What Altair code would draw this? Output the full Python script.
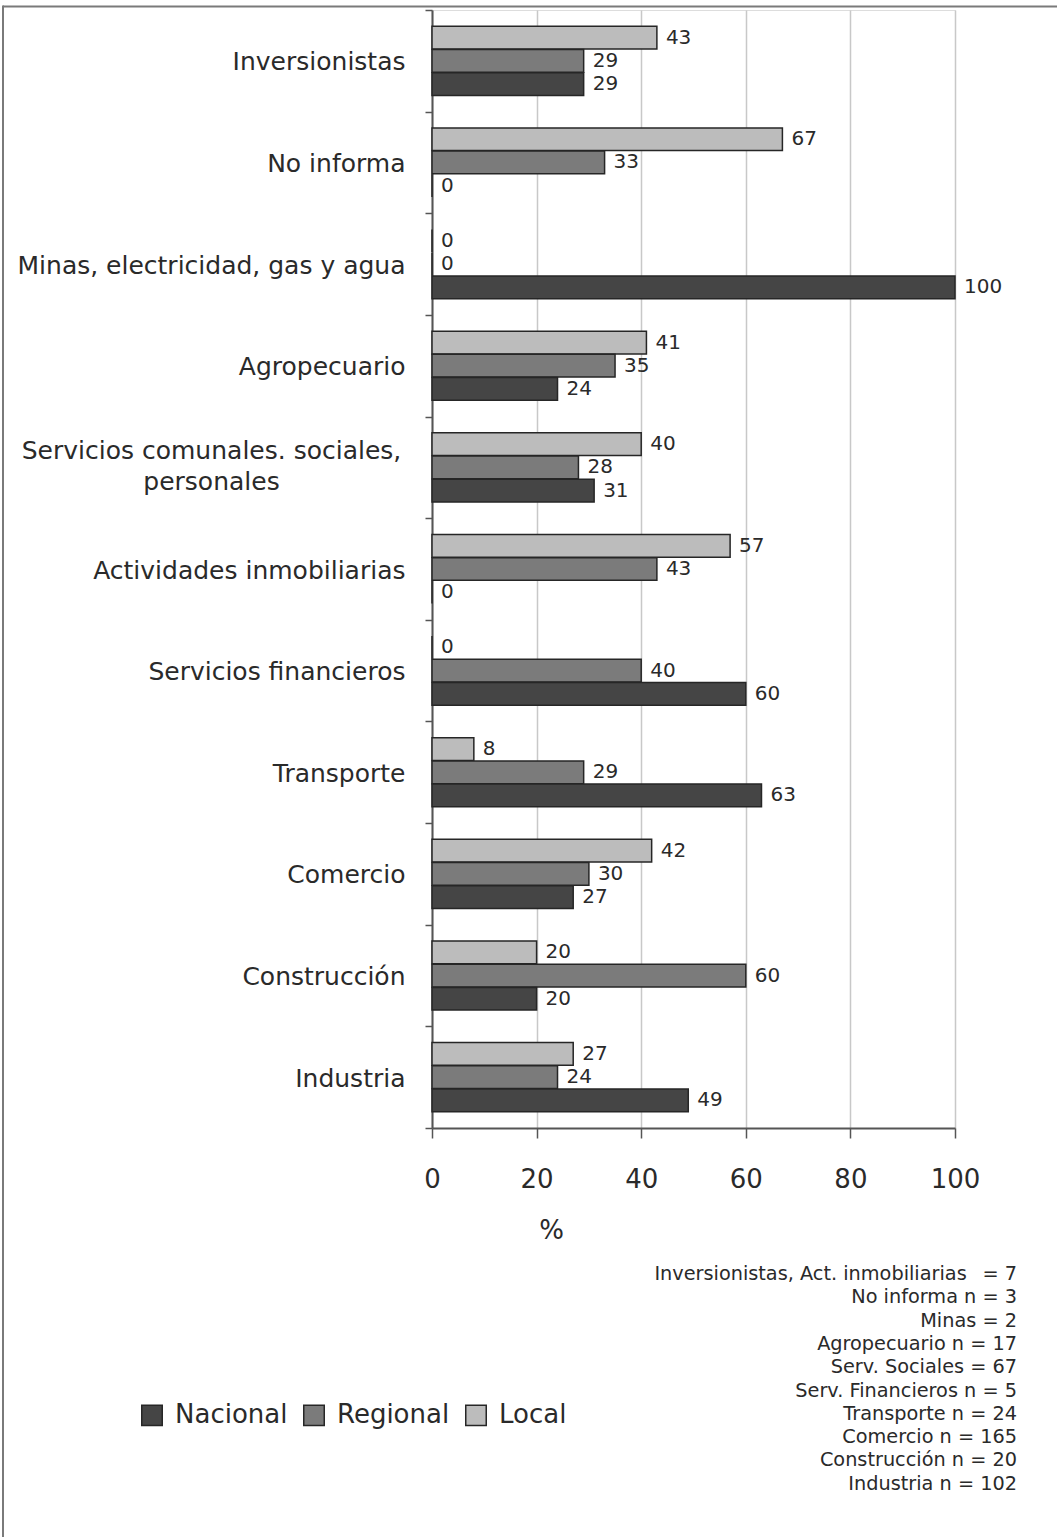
import altair as alt
import pandas as pd

# Sectors, top to bottom
categories = [
    "Inversionistas",
    "No informa",
    "Minas, electricidad, gas y agua",
    "Agropecuario",
    "Servicios comunales. sociales, personales",
    "Actividades inmobiliarias",
    "Servicios financieros",
    "Transporte",
    "Comercio",
    "Construcción",
    "Industria",
]

# Percentages per scope
local_pct = [43, 67, 0, 41, 40, 57, 0, 8, 42, 20, 27]
regional_pct = [29, 33, 0, 35, 28, 43, 40, 29, 30, 60, 24]
nacional_pct = [29, 0, 100, 24, 31, 0, 60, 63, 27, 20, 49]

series = ["Nacional", "Regional", "Local"]
series_colors = ["#454545", "#7b7b7b", "#bcbcbc"]
stack_order = ["Local", "Regional", "Nacional"]

x_ticks = [0, 20, 40, 60, 80, 100]

notes = [
    "Inversionistas, Act. inmobiliarias \u2002= 7",
    "No informa n = 3",
    "Minas = 2",
    "Agropecuario n = 17",
    "Serv. Sociales = 67",
    "Serv. Financieros n = 5",
    "Transporte n = 24",
    "Comercio n = 165",
    "Construcción n = 20",
    "Industria n = 102",
]

rows = []
for cat, lo, re, na in zip(categories, local_pct, regional_pct, nacional_pct):
    rows.append({"sector": cat, "ambito": "Local", "pct": lo})
    rows.append({"sector": cat, "ambito": "Regional", "pct": re})
    rows.append({"sector": cat, "ambito": "Nacional", "pct": na})
df = pd.DataFrame(rows)

FONT = "DejaVu Sans"
INK = "#2a2a2a"
AXIS = "#555555"

# The long sector name is broken in two centred lines
two_line = "Servicios comunales. sociales, personales"
is_two_line = f"datum.value == '{two_line}'"
label_expr = (
    f"datum.label == '{two_line}' ? "
    "['Servicios comunales. sociales,', 'personales'] : datum.label"
)

x_enc = alt.X(
    "pct:Q",
    scale=alt.Scale(domain=[0, 100], nice=False),
    axis=alt.Axis(
        values=x_ticks,
        format="d",
        title="%",
        titleFont=FONT,
        titleFontSize=26,
        titleFontWeight="normal",
        titleColor=INK,
        titleX=119,
        titleY=102,
        titleBaseline="middle",
        titleAlign="center",
        labelFont=FONT,
        labelFontSize=26,
        labelColor=INK,
        labelPadding=28,
        labelFlush=False,
        tickSize=10,
        tickWidth=1.5,
        tickColor=AXIS,
        domainColor=AXIS,
        domainWidth=2,
        grid=True,
        gridColor="#c8c8c8",
        gridWidth=1.5,
    ),
)

y_enc = alt.Y(
    "sector:N",
    sort=categories,
    scale=alt.Scale(paddingInner=0, paddingOuter=0),
    axis=alt.Axis(
        title=None,
        labelExpr=label_expr,
        labelFont=FONT,
        labelFontSize=25,
        labelColor=INK,
        labelLineHeight=31,
        labelAlign={"condition": {"test": is_two_line, "value": "center"}, "value": "right"},
        labelPadding={"condition": {"test": is_two_line, "value": 214}, "value": 20},
        labelOffset={"condition": {"test": is_two_line, "value": -17}, "value": 1},
        labelLimit=500,
        tickBand="extent",
        tickSize=7,
        tickWidth=1.5,
        tickColor=AXIS,
        domainColor=AXIS,
        domainWidth=2,
        grid=False,
    ),
)

y_off = alt.YOffset(
    "ambito:N",
    sort=stack_order,
    scale=alt.Scale(paddingInner=0.02, paddingOuter=0.7),
)

bars = alt.Chart(df).mark_bar(stroke="#262626", strokeWidth=1.5).encode(
    x=x_enc,
    y=y_enc,
    yOffset=y_off,
    color=alt.Color(
        "ambito:N",
        scale=alt.Scale(domain=series, range=series_colors),
        legend=alt.Legend(
            title=None,
            orient="none",
            legendX=-293,
            legendY=1392,
            direction="horizontal",
            symbolType="square",
            symbolSize=420,
            symbolStrokeColor="#262626",
            symbolStrokeWidth=1.5,
            symbolOpacity=1,
            labelFont=FONT,
            labelFontSize=26,
            labelColor=INK,
            labelOffset=10,
            columnPadding=12,
        ),
    ),
)

values = alt.Chart(df).mark_text(
    align="left", baseline="middle", dx=9, font=FONT, fontSize=20, color=INK
).encode(
    x="pct:Q",
    y=alt.Y("sector:N", sort=categories),
    yOffset=alt.YOffset("ambito:N", sort=stack_order),
    text=alt.Text("pct:Q", format="d"),
)

one = pd.DataFrame({"k": [0]})

sample_sizes = alt.Chart(one).mark_text(
    align="right", baseline="top", font=FONT, fontSize=19.3, lineHeight=23.3, color=INK
).encode(
    x=alt.value(585),
    y=alt.value(1255),
    text=alt.value(notes),
)

frame_top = alt.Chart(one).mark_rule(color="#7a7a7a", strokeWidth=2).encode(
    x=alt.value(-429), x2=alt.value(625), y=alt.value(-3.5)
)
frame_left = alt.Chart(one).mark_rule(color="#7a7a7a", strokeWidth=2).encode(
    x=alt.value(-429), y=alt.value(-4.5), y2=alt.value(1527)
)

chart = (
    alt.layer(bars, values, sample_sizes, frame_top, frame_left)
    .properties(
        width=523,
        height=1118,
        autosize=alt.AutoSizeParams(type="none"),
        padding={"left": 432, "top": 10, "right": 102, "bottom": 409},
    )
    .configure_view(stroke="#8a8a8a", strokeWidth=2)
    .configure(background="white")
)

chart.save("out.html", embed_options={"renderer": "svg", "actions": False})
